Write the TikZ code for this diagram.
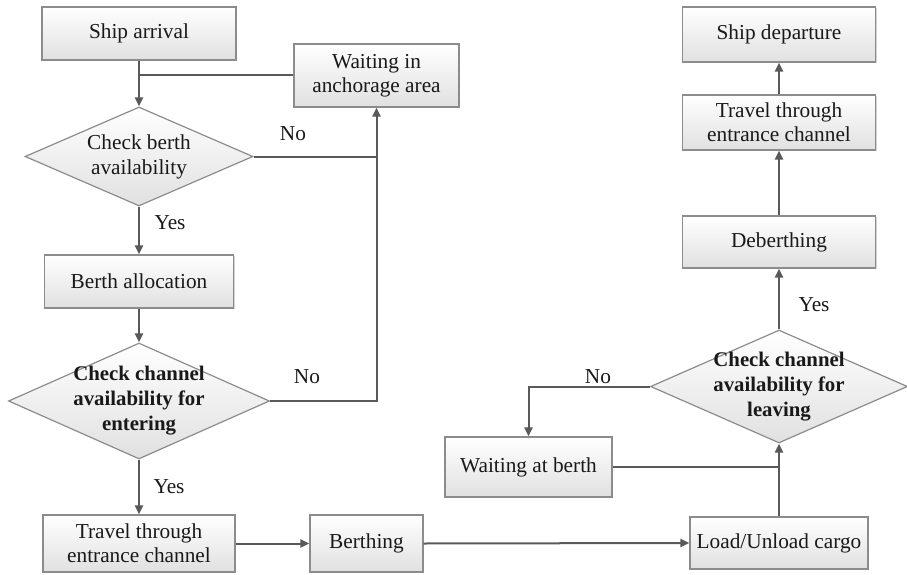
\documentclass[tikz,border=0pt]{standalone}
\usepackage{fontspec}
\setmainfont{LiberationSerif-Regular.ttf}[BoldFont=LiberationSerif-Bold.ttf, ItalicFont=LiberationSerif-Italic.ttf]
\usetikzlibrary{shapes.geometric,arrows.meta,shadows}
\begin{document}
\begin{tikzpicture}[x=1pt,y=-1pt,
 every node/.style={font=\fontsize{21.3}{24}\selectfont, text=black!90},
 box/.style={draw=black!45, line width=1.2pt, top color=white, bottom color=black!12, align=center, inner sep=0pt,
   drop shadow={shadow xshift=1.2pt, shadow yshift=-1.2pt, opacity=0.35, fill=black!50}},
 dia/.style={diamond, draw=black!45, line width=1.2pt, top color=white, bottom color=black!12, inner sep=0pt},
 dtext/.style={font=\fontsize{21.3}{25}\selectfont, align=center, text=black!90, inner sep=0pt},
 dbold/.style={dtext, font=\fontsize{20.8}{25}\selectfont\bfseries},
 conn/.style={draw=black!65, line width=2pt},
 arr/.style={conn, -{Triangle[width=8pt,length=9pt]}},
 lbl/.style={inner sep=0pt}]
\useasboundingbox (0,0) rectangle (907,575);

% left column
\node[box, minimum width=194pt, minimum height=53pt] (arr) at (139,33.5) {Ship arrival};
\node[box, minimum width=165pt, minimum height=63pt] (anch) at (376.5,75.5) {Waiting in\\anchorage area};
\node[dia, minimum width=228pt, minimum height=99pt,
      label={[dtext, name=d1t]center:Check berth\\availability}] (d1) at (139,156.5) {};
\node[box, minimum width=189pt, minimum height=53pt] (ba) at (139,281.5) {Berth allocation};
\node[dia, minimum width=261pt, minimum height=116pt,
      label={[dbold, name=d2t]center:Check channel\\availability for\\entering}] (d2) at (139,401) {};
\node[box, minimum width=192pt, minimum height=57pt] (tl) at (139,543.5) {Travel through\\entrance channel};
\node[box, minimum width=113pt, minimum height=57pt] (bth) at (366.5,543.5) {Berthing};

% right column
\node[box, minimum width=178pt, minimum height=52pt] (load) at (779,543) {Load/Unload cargo};
\node[dia, minimum width=257pt, minimum height=113pt,
      label={[dbold, name=d3t]center:Check channel\\availability for\\leaving}] (d3) at (779,386.5) {};
\node[box, minimum width=167pt, minimum height=60pt] (wb) at (528.5,467) {Waiting at berth};
\node[box, minimum width=193pt, minimum height=52pt] (deb) at (779,242) {Deberthing};
\node[box, minimum width=193pt, minimum height=55pt] (tr) at (779,122.5) {Travel through\\entrance channel};
\node[box, minimum width=193pt, minimum height=55pt] (dep) at (779,34.5) {Ship departure};

% junction coordinates
\coordinate (j1) at (arr.south |- anch.west);
\coordinate (j2) at (anch.south |- d1.east);
\coordinate (j3) at (load.north |- wb.east);

% connectors
\draw[arr] (arr.south) -- (d1.north);
\draw[conn] (anch.west) -- (j1);
\draw[arr] (d1.east) -| (anch.south);
\draw[arr] (d1.south) -- (ba.north);
\draw[arr] (ba.south) -- (d2.north);
\draw[conn] (d2.east) -| (j2);
\draw[arr] (d2.south) -- (tl.north);
\draw[arr] (tl.east) -- (bth.west);
\draw[arr] (bth.east) -- (load.west);
\draw[arr] (load.north) -- (d3.south);
\draw[conn] (wb.east) -- (j3);
\draw[arr] (d3.west) -| (wb.north);
\draw[arr] (d3.north) -- (deb.south);
\draw[arr] (deb.north) -- (tr.south);
\draw[arr] (tr.north) -- (dep.south);

% branch labels
\node[lbl] (no1) at (293,134) {No};
\node[lbl] (no2) at (307,377) {No};
\node[lbl] (no3) at (598,377) {No};
\node[lbl] (yes1) at (170,223) {Yes};
\node[lbl] (yes2) at (169,487) {Yes};
\node[lbl] (yes3) at (814,305) {Yes};
\end{tikzpicture}
\end{document}
